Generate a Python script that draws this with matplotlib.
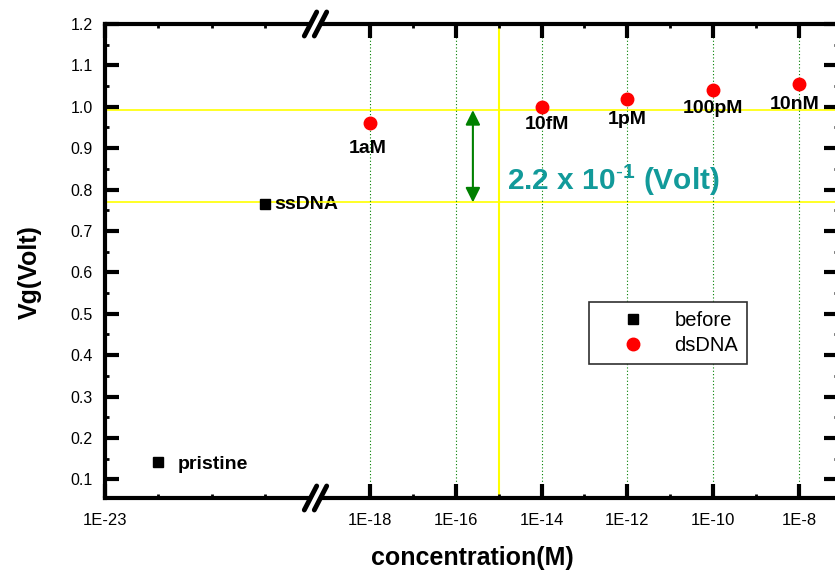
import matplotlib.pyplot as plt
from matplotlib.lines import Line2D
from matplotlib.ticker import MultipleLocator, NullFormatter

plt.rcParams['font.family'] = ['Liberation Sans', 'DejaVu Sans']
plt.rcParams['mathtext.fontset'] = 'custom'
plt.rcParams['mathtext.rm'] = 'Liberation Sans'
plt.rcParams['mathtext.bf'] = 'Liberation Sans:bold'

# before hybridisation (put on the left part of the broken axis)
before_x = [1e-22, 1e-20]
before_y = [0.141, 0.764]
before_names = ["pristine", "ssDNA"]

# after dsDNA hybridisation
dsdna_x = [1e-18, 1e-14, 1e-12, 1e-10, 1e-8]
dsdna_y = [0.960, 0.999, 1.018, 1.040, 1.055]
dsdna_names = ["1aM", "10fM", "1pM", "100pM", "10nM"]

# yellow reference lines
ref_levels = [0.992, 0.769]
ref_conc = 1e-15
shift_text = "2.2 x 10$^{\\mathrm{\u2010}\\mathbf{1}}$ (Volt)"

left_major = [1e-23]
left_major_labels = ["1E-23"]
left_minor = [1e-22, 1e-21, 1e-20]
right_major = [1e-18, 1e-16, 1e-14, 1e-12, 1e-10, 1e-8]
right_major_labels = ["1E-18", "1E-16", "1E-14", "1E-12", "1E-10", "1E-8"]
right_minor = [1e-17, 1e-15, 1e-13, 1e-11, 1e-9]
y_major = [0.1, 0.2, 0.3, 0.4, 0.5, 0.6, 0.7, 0.8, 0.9, 1.0, 1.1, 1.2]
y_labels = ["0.1", "0.2", "0.3", "0.4", "0.5", "0.6", "0.7", "0.8", "0.9", "1.0", "1.1", "1.2"]

W, H = 835, 575


def fx(p):
    return p / W


def fy(p):
    return 1 - p / H


fig = plt.figure(figsize=(W / 100, H / 100), dpi=100)
hgt = (498 - 24) / H
ax1 = fig.add_axes([fx(105), fy(498), fx(318) - fx(105), hgt])
ax2 = fig.add_axes([fx(318), fy(498), fx(838) - fx(318), hgt], sharey=ax1)
ax2.patch.set_visible(False)

for ax in (ax1, ax2):
    ax.set_xscale('log')
    for s in ax.spines.values():
        s.set_linewidth(3)
ax1.spines['right'].set_visible(False)
ax2.spines['left'].set_visible(False)

ax1.set_xlim(1e-23, 1e-19)
ax2.set_xlim(10 ** -19.21, 10 ** -7.09)
ax1.set_ylim(0.055, 1.2)

ax1.set_xticks(left_major, labels=left_major_labels)
ax1.set_xticks(left_minor, minor=True)
ax2.set_xticks(right_major, labels=right_major_labels)
ax2.set_xticks(right_minor, minor=True)
ax1.set_yticks(y_major, labels=y_labels)
ax1.yaxis.set_minor_locator(MultipleLocator(0.05))
for ax in (ax1, ax2):
    ax.xaxis.set_minor_formatter(NullFormatter())

ax1.tick_params(which='major', direction='in', length=10, width=3, top=True, bottom=True,
                left=True, right=False)
ax1.tick_params(which='minor', direction='in', length=3, width=2, top=True, bottom=True,
                left=True, right=False)
ax2.tick_params(which='major', direction='in', length=10, width=3, top=True, bottom=True,
                left=False, right=True, labelleft=False)
ax2.tick_params(which='minor', direction='in', length=3, width=2, top=True, bottom=True,
                left=False, right=True)
ax1.tick_params(axis='y', labelsize=11.5, pad=9)
for ax in (ax1, ax2):
    ax.tick_params(axis='x', labelsize=12, pad=11)

ax2.grid(True, axis='x', which='major', color='green', linestyle=(0, (1, 2)), linewidth=0.8)

# reference lines
for lev in ref_levels:
    ax1.axhline(lev, color='#ffff00', lw=1.2, zorder=1)
    ax2.axhline(lev, color='#ffff00', lw=1.2, zorder=1)
ax2.axvline(ref_conc, color='#ffff00', lw=1.5, zorder=1)

h_before, = ax1.plot(before_x, before_y, 's', color='black', ms=7.5, label='before', clip_on=False)
h_ds, = ax2.plot(dsdna_x, dsdna_y, 'o', color='red', ms=9, label='dsDNA', clip_on=False)

before_off = [(13.7, -5), (7, -3.6)]
for x, y, name, off in zip(before_x, before_y, before_names, before_off):
    ax1.annotate(name, (x, y), xytext=off, textcoords='offset points', ha='left',
                 va='baseline', fontsize=14, fontweight='bold', annotation_clip=False,
                 zorder=5)

ds_off = [(-1.5, -21), (4, -16), (0, -18), (0, -16.5), (-3, -18)]
for x, y, name, off in zip(dsdna_x, dsdna_y, dsdna_names, ds_off):
    ax2.annotate(name, (x, y), xytext=off, textcoords='offset points', ha='center',
                 va='baseline', fontsize=14, fontweight='bold', annotation_clip=False)

# shift arrow + text
arrow_x = 10 ** -15.6
ax2.annotate('', xy=(arrow_x, ref_levels[1]), xytext=(arrow_x, ref_levels[0]),
             arrowprops=dict(arrowstyle='<|-|>', color='green', lw=1.5, mutation_scale=22,
                             shrinkA=0, shrinkB=0))
ax2.text(10 ** -14.81, 0.798, shift_text, color='#129a9a', fontsize=21.5, fontweight='bold',
         ha='left', va='baseline')

leg = ax2.legend(handles=[h_before, h_ds], loc='upper left', bbox_to_anchor=(fx(589), fy(302)),
                 bbox_transform=fig.transFigure, borderaxespad=0, fancybox=False, framealpha=1,
                 edgecolor='#303030', fontsize=14.5, handlelength=3.5, handletextpad=0.3,
                 borderpad=0.45, labelspacing=0.3)
leg.get_frame().set_linewidth(1.2)

# axis break marks "//"
for ys in (24, 498):
    fig.add_artist(Line2D([fx(309.5), fx(321.5)], [fy(ys + 12.5), fy(ys - 12.5)],
                          color='white', lw=6))
    for x0 in (304.3, 314.3):
        fig.add_artist(Line2D([fx(x0), fx(x0 + 12.4)], [fy(ys + 12), fy(ys - 12)],
                              color='black', lw=3.5, solid_capstyle='round'))

fig.text(fx(472), fy(558), 'concentration(M)', ha='center', va='center', fontsize=18,
         fontweight='bold')
fig.text(fx(30), fy(272), 'Vg(Volt)', ha='center', va='center', rotation=90, fontsize=18,
         fontweight='bold')

fig.savefig('out.png', dpi=100)
